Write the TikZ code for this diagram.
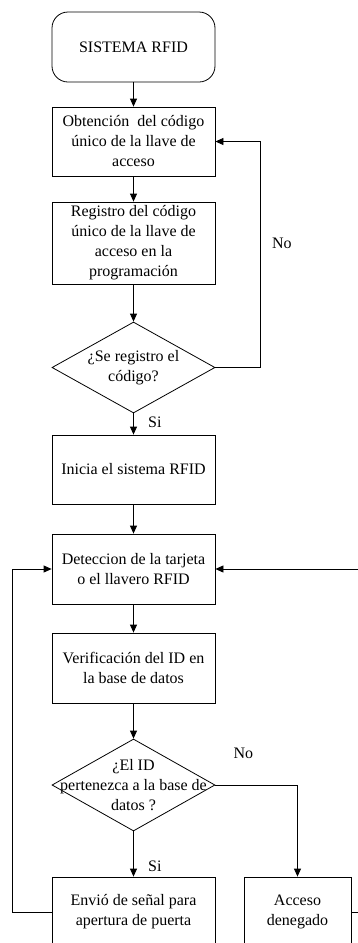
\documentclass[tikz,border=0pt]{standalone}
\usepackage{fontspec}
\setmainfont{Liberation Serif}
\usetikzlibrary{shapes.geometric,arrows.meta}
\begin{document}
\begin{tikzpicture}[x=1pt,y=-1pt,line width=0.8pt,
  caja/.style={draw, rectangle, minimum width=163pt, inner sep=0pt, align=center},
  rombo/.style={draw, diamond, minimum width=163pt, inner sep=0pt},
  flecha/.style={-{Triangle[length=8pt,width=7pt]}}]
\fontsize{16}{20}\selectfont
\useasboundingbox (0,0) rectangle (358,943);
\clip (0,0) rectangle (358,943);
\node[caja, rounded corners=16pt, minimum height=70pt] (inicio) at (133.5,47) {SISTEMA RFID};
\node[caja, minimum height=69pt] (obt) at (133.5,141.5) {Obtención\ \ del código\\único de la llave de\\acceso};
\node[caja, minimum height=82pt] (reg) at (133.5,243) {Registro del código\\único de la llave de\\acceso en la\\programación};
\node[rombo, minimum height=91pt, label={[align=center]center:¿Se registro el\\código?}] (preg1) at (133.5,367.5) {};
\node[caja, minimum height=69pt] (inicia) at (133.5,469.5) {Inicia el sistema RFID};
\node[caja, minimum height=70pt] (det) at (133.5,569) {Deteccion de la tarjeta\\o el llavero RFID};
\node[caja, minimum height=70pt] (ver) at (133.5,668) {Verificación del ID en\\la base de datos};
\node[rombo, minimum height=92pt, label={[align=center]center:¿El ID\\pertenezca a la base de\\datos ?}] (preg2) at (133.5,785) {};
\node[caja, minimum height=70pt] (envio) at (133.5,912) {Envió de señal para\\apertura de puerta};
\node[caja, minimum width=107pt, minimum height=70pt] (acceso) at (297.5,912) {Acceso\\denegado};
% flujo principal
\path[draw,flecha] (inicio) -- (obt);
\path[draw,flecha] (obt) -- (reg);
\path[draw,flecha] (reg) -- (preg1);
\path[draw,flecha] (preg1.east) -- ++(45,0) |- node[pos=0.275,right=6pt] {No} (obt.east);
\path[draw,flecha] (preg1.south) -- node[pos=0.4,right=9pt] {Si} (inicia.north);
\path[draw,flecha] (inicia) -- (det);
\path[draw,flecha] (det) -- (ver);
\path[draw,flecha] (ver) -- (preg2.north);
\path[draw,flecha] (preg2.south) -- node[pos=0.78,right=9pt] {Si} (envio.north);
\path[draw,flecha] (preg2.east) -| node[pos=0.17,above=21pt] {No} (acceso.north);
% retornos
\path[draw,flecha] (envio.west) -- ++(-39,0) |- (det.west);
\path[draw,flecha] (acceso.east) -- ++(15,0) |- (det.east);
\end{tikzpicture}
\end{document}
